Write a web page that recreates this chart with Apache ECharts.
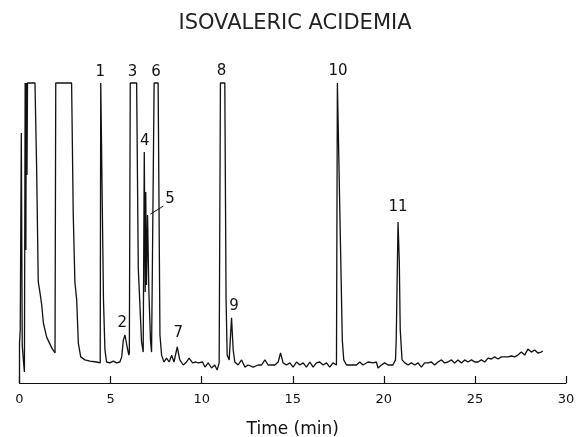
<!DOCTYPE html>
<html lang="en">
<head>
    <meta charset="UTF-8">
    <title>Isovaleric Acidemia</title>
    <script src="https://cdn.jsdelivr.net/npm/echarts@6/dist/echarts.min.js"></script>
    <style>
        html, body { margin: 0; padding: 0; background: #fff; }
        #chart { width: 576px; height: 437px; }
    </style>
</head>
<body>
    <div id="chart"></div>
    <script>
        // retention time (min) and detector signal (clipped at 100)
        const timeMin = [
            0, 0, 0.04, 0.10, 0.15, 0.22, 0.27, 0.31, 0.35, 0.37, 0.41, 0.44, 0.85, 0.94, 1.03, 1.12,
            1.22, 1.31, 1.49, 1.77, 1.95, 1.99, 2.86, 2.95, 3.04, 3.14, 3.23, 3.36, 3.59, 3.87, 4.23, 4.43,
            4.46, 4.50, 4.61, 4.69, 4.78, 4.96, 5.15, 5.33, 5.51, 5.61, 5.70, 5.79, 5.91, 6.00, 6.03, 6.08,
            6.43, 6.52, 6.70, 6.79, 6.85, 6.90, 6.93, 6.97, 7.03, 7.10, 7.19, 7.25, 7.39, 7.61, 7.71, 7.80,
            7.93, 8.07, 8.22, 8.35, 8.48, 8.66, 8.80, 8.99, 9.17, 9.31, 9.50, 9.68, 9.81, 10.05, 10.18, 10.36,
            10.54, 10.72, 10.85, 10.96, 11.03, 11.27, 11.34, 11.40, 11.51, 11.64, 11.73, 11.82, 12.00, 12.19, 12.37, 12.55,
            12.83, 13.10, 13.29, 13.47, 13.65, 14.02, 14.20, 14.33, 14.47, 14.66, 14.84, 15.02, 15.21, 15.39, 15.57, 15.75,
            15.94, 16.12, 16.30, 16.48, 16.67, 16.85, 17.03, 17.21, 17.40, 17.45, 17.52, 17.72, 17.80, 17.95, 18.22, 18.50,
            18.68, 18.86, 19.13, 19.41, 19.59, 19.68, 19.87, 20.05, 20.23, 20.50, 20.64, 20.68, 20.78, 20.85, 20.90, 21.00,
            21.15, 21.33, 21.51, 21.70, 21.88, 22.06, 22.24, 22.43, 22.61, 22.79, 22.97, 23.16, 23.34, 23.52, 23.71, 23.89,
            24.07, 24.26, 24.44, 24.62, 24.81, 24.99, 25.17, 25.35, 25.54, 25.72, 25.90, 26.08, 26.27, 26.45, 26.63, 26.81,
            27.00, 27.18, 27.36, 27.55, 27.73, 27.91, 28.10, 28.28, 28.46, 28.64, 28.73
        ];
        const signal = [
            0, 13.3, 17.7, 83.3, 12.7, 7.0, 3.7, 100, 44.3, 100, 69.3, 100, 100, 71.7, 33.7, 30.3,
            26.0, 20.0, 15.3, 11.7, 10.0, 100, 100, 56.3, 33.7, 27.7, 13.3, 8.7, 7.7, 7.3, 7.0, 6.7,
            100, 100, 27.7, 11.0, 7.0, 6.7, 7.3, 6.7, 7.0, 8.7, 14.3, 16.0, 12.0, 9.3, 10.0, 100,
            100, 38.3, 13.7, 10.3, 77.0, 30.3, 63.7, 32.7, 56.0, 31.0, 14.3, 10.3, 100, 100, 16.0, 9.3,
            7.0, 8.3, 7.0, 9.3, 7.0, 12.0, 7.7, 6.0, 7.0, 8.3, 6.7, 7.0, 6.7, 7.0, 5.3, 6.7,
            5.0, 6.0, 4.3, 6.7, 100, 100, 27.7, 9.3, 7.7, 21.7, 11.0, 7.0, 6.0, 7.7, 5.3, 6.0,
            5.3, 6.0, 6.0, 7.7, 6.0, 6.0, 7.0, 10.0, 6.7, 6.0, 6.7, 5.3, 7.0, 6.0, 6.7, 5.3,
            7.0, 5.3, 6.7, 7.0, 6.0, 6.7, 5.3, 6.7, 6.0, 100, 100, 14.3, 7.7, 6.0, 6.0, 6.0,
            7.0, 6.0, 7.0, 6.7, 7.0, 5.0, 6.0, 6.7, 6.0, 6.0, 7.7, 14.3, 53.7, 40.3, 17.7, 7.7,
            6.7, 6.0, 6.7, 6.0, 6.7, 5.3, 6.7, 6.7, 7.0, 6.0, 7.0, 7.7, 6.7, 7.0, 7.7, 6.7,
            7.7, 6.7, 7.7, 7.0, 7.7, 7.0, 7.0, 7.7, 7.0, 8.3, 8.0, 8.7, 8.0, 8.7, 8.7, 8.7,
            9.0, 8.7, 9.3, 10.3, 9.3, 11.3, 10.3, 11.0, 10.0, 10.3, 10.7
        ];

        // peak numbers and where they are written
        const peakLabels = ['1', '2', '3', '4', '5', '6', '7', '8', '9', '10', '11'];
        const peakLabelTime = [4.44, 5.64, 6.21, 6.88, 8.26, 7.49, 8.71, 11.09, 11.77, 17.49, 20.78];
        const peakLabelSignal = [103.7, 20.0, 103.7, 80.7, 61.3, 103.7, 16.7, 104.0, 25.7, 104.0, 58.7];

        // leader line from "5" to its peak
        const leaderTime = [7.90, 7.19];
        const leaderSignal = [59.0, 56.3];

        const xTicks = [0, 5, 10, 15, 20, 25, 30];

        const chart = echarts.init(document.getElementById('chart'), null, { renderer: 'canvas' });
        const font = 'DejaVu Sans';
        const ink = '#111';

        const option = {
            animation: false,
            backgroundColor: '#fff',
            title: {
                text: 'ISOVALERIC ACIDEMIA',
                left: 290,
                textAlign: 'center',
                top: 8,
                textStyle: { fontFamily: font, fontSize: 21, fontWeight: 'normal', color: '#222' }
            },
            grid: {
                left: 19.5, right: 10, top: 83, bottom: 54,
                containLabel: false,
                outerBoundsMode: 'none'
            },
            xAxis: {
                type: 'value',
                min: xTicks[0],
                max: xTicks[xTicks.length - 1],
                interval: 5,
                name: 'Time (min)',
                nameLocation: 'middle',
                nameGap: 38,
                nameTextStyle: { fontFamily: font, fontSize: 17, color: ink },
                axisLine: { show: true, onZero: false, lineStyle: { color: ink, width: 1.2 } },
                axisTick: { show: true, inside: true, length: 7, lineStyle: { color: ink, width: 1.2 } },
                axisLabel: { fontFamily: font, fontSize: 13, color: ink, margin: 10 },
                splitLine: { show: false }
            },
            yAxis: {
                type: 'value',
                min: 0,
                max: 100,
                show: false
            },
            series: [
                {
                    type: 'line',
                    data: timeMin.map((t, i) => [t, signal[i]]),
                    showSymbol: false,
                    clip: false,
                    lineStyle: { color: ink, width: 1.3 },
                    silent: true
                },
                {
                    type: 'line',
                    data: leaderTime.map((t, i) => [t, leaderSignal[i]]),
                    showSymbol: false,
                    lineStyle: { color: ink, width: 1 },
                    silent: true
                },
                {
                    type: 'scatter',
                    symbolSize: 0,
                    clip: false,
                    itemStyle: { opacity: 1, color: ink },
                    data: peakLabels.map((name, i) => ({ name: name, value: [peakLabelTime[i], peakLabelSignal[i]] })),
                    label: {
                        show: true,
                        position: 'inside',
                        formatter: '{b}',
                        fontFamily: font,
                        fontSize: 15,
                        color: ink,
                        opacity: 1
                    },
                    silent: true
                }
            ]
        };

        chart.setOption(option);
    </script>
</body>
</html>
